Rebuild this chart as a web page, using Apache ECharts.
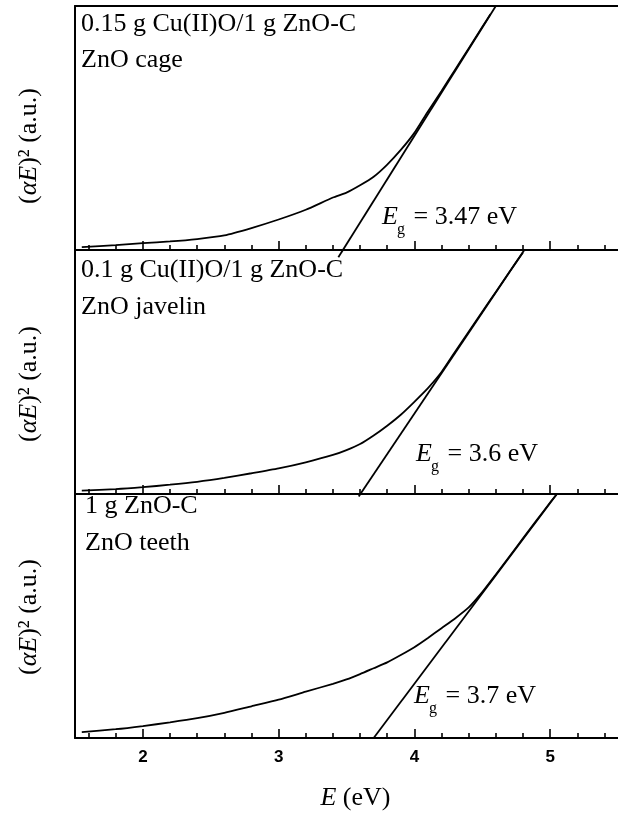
<!DOCTYPE html>
<html>
<head>
<meta charset="utf-8">
<script src="https://cdn.jsdelivr.net/npm/echarts@6/dist/echarts.min.js"></script>
<style>html,body{margin:0;padding:0;background:#fff}#c{width:618px;height:813px}</style>
</head>
<body>
<div id="c"></div>
<script>
// ---- data ----
const xMin = 1.5, xMax = 5.5;
const majorTicks = [2, 3, 4, 5];
const minorTicks = [1.6, 1.8, 2.2, 2.4, 2.6, 2.8, 3.2, 3.4, 3.6, 3.8, 4.2, 4.4, 4.6, 4.8, 5.2, 5.4];
const tickLabels = ['2', '3', '4', '5'];

const cageE = [1.55, 1.8, 2.0, 2.2, 2.4, 2.6, 2.8, 3.0, 3.2, 3.4, 3.5, 3.6, 3.7, 3.8, 3.9, 4.0, 4.1, 4.2, 4.3, 4.4, 4.5, 4.56];
const cageA = [0.012, 0.02, 0.028, 0.035, 0.045, 0.06, 0.09, 0.125, 0.165, 0.215, 0.235, 0.265, 0.3, 0.35, 0.41, 0.48, 0.568, 0.652, 0.739, 0.826, 0.914, 0.966];
const cageFitE = [3.44, 4.6];
const cageFitA = [-0.03, 1.0];

const javelinE = [1.55, 1.8, 2.0, 2.2, 2.4, 2.6, 2.8, 3.0, 3.2, 3.4, 3.5, 3.6, 3.7, 3.8, 3.9, 4.0, 4.1, 4.2, 4.3, 4.4, 4.5, 4.6, 4.7, 4.8];
const javelinA = [0.014, 0.02, 0.028, 0.038, 0.05, 0.066, 0.085, 0.105, 0.13, 0.16, 0.18, 0.205, 0.24, 0.28, 0.325, 0.378, 0.434, 0.5, 0.583, 0.665, 0.747, 0.828, 0.91, 0.99];
const javelinFitE = [3.59, 4.81];
const javelinFitA = [-0.01, 1.0];

const teethE = [1.55, 1.8, 2.0, 2.2, 2.4, 2.6, 2.8, 3.0, 3.2, 3.4, 3.5, 3.6, 3.7, 3.8, 3.9, 4.0, 4.1, 4.2, 4.3, 4.4, 4.5, 4.6, 4.7, 4.8, 4.9, 5.0, 5.05];
const teethA = [0.024, 0.036, 0.049, 0.064, 0.081, 0.103, 0.13, 0.157, 0.19, 0.222, 0.24, 0.262, 0.286, 0.31, 0.34, 0.372, 0.41, 0.45, 0.49, 0.535, 0.598, 0.67, 0.744, 0.818, 0.892, 0.965, 1.0];
const teethFitE = [3.7, 5.05];
const teethFitA = [0.0, 1.0];

const sampleLines = [
  ['0.15 g Cu(II)O/1 g ZnO-C', 'ZnO cage'],
  ['0.1 g Cu(II)O/1 g ZnO-C', 'ZnO javelin'],
  ['1 g ZnO-C', 'ZnO teeth']
];
const gapValues = ['3.47', '3.6', '3.7'];
const xTitle = 'E';
const xUnit = ' (eV)';

// ---- layout ----
const GL = 75, GW = 545, GH = 244;
const tops = [6, 250, 494];
const serif = '"Liberation Serif", "Times New Roman", serif';
const FS = 26;
const curves = [[cageE, cageA, cageFitE, cageFitA], [javelinE, javelinA, javelinFitE, javelinFitA], [teethE, teethA, teethFitE, teethFitA]];

const zip = (a, b) => a.map((v, i) => [v, b[i]]);

const grid = [], xAxis = [], yAxis = [], series = [], graphic = [];
const yTitleShift = [36, 24, 2];
tops.forEach((t, k) => {
  grid.push({ left: GL, top: t, width: GW, height: GH, containLabel: false });
  const last = k === 2;
  xAxis.push({
    type: 'value', gridIndex: k, min: xMin, max: xMax, position: 'bottom',
    axisLine: { show: true, onZero: false, lineStyle: { color: '#000', width: 2 } },
    axisTick: { show: true, inside: true, length: 9, customValues: majorTicks, lineStyle: { color: '#000', width: 1.6 } },
    axisLabel: { show: last, customValues: majorTicks, formatter: v => tickLabels[majorTicks.indexOf(v)] || '', margin: 11,
      fontFamily: '"Liberation Sans", Arial, sans-serif', fontWeight: 'bold', fontSize: 17, color: '#000' },
    splitLine: { show: false },
    name: last ? '{i|' + xTitle + '}{n|' + xUnit + '}' : '',
    nameLocation: 'middle', nameGap: 47,
    nameTextStyle: { padding: [0, 0, 0, 18], rich: {
      i: { fontFamily: serif, fontStyle: 'italic', fontSize: FS, color: '#000' },
      n: { fontFamily: serif, fontSize: FS, color: '#000' } } }
  });
  xAxis.push({
    type: 'value', gridIndex: k, min: xMin, max: xMax, position: 'bottom',
    axisLine: { show: false, onZero: false },
    axisTick: { show: true, inside: true, length: 5, customValues: minorTicks, lineStyle: { color: '#000', width: 1.6 } },
    axisLabel: { show: false }, splitLine: { show: false }
  });
  if (k === 0) {
    xAxis.push({
      type: 'value', gridIndex: 0, min: xMin, max: xMax, position: 'top',
      axisLine: { show: true, onZero: false, lineStyle: { color: '#000', width: 2 } },
      axisTick: { show: false }, axisLabel: { show: false }, splitLine: { show: false }
    });
  }
  yAxis.push({
    type: 'value', gridIndex: k, min: 0, max: 1,
    axisLine: { show: true, onZero: false, lineStyle: { color: '#000', width: 2 } },
    axisTick: { show: false }, axisLabel: { show: false }, splitLine: { show: false },
    name: '{n|(}{i|αE}{n|)² (a.u.)}', nameLocation: 'middle', nameRotate: 90, nameGap: 33,
    nameTextStyle: { padding: [0, yTitleShift[k], 0, 0], rich: {
      i: { fontFamily: serif, fontStyle: 'italic', fontSize: FS, color: '#000' },
      n: { fontFamily: serif, fontSize: FS, color: '#000' } } }
  });
});

const xIdx = [0, 3, 5];
curves.forEach((c, k) => {
  series.push({ type: 'line', xAxisIndex: xIdx[k], yAxisIndex: k, data: zip(c[0], c[1]), showSymbol: false, smooth: 0.2,
    lineStyle: { color: '#000', width: 1.8 }, clip: false, animation: false });
  series.push({ type: 'line', xAxisIndex: xIdx[k], yAxisIndex: k, data: zip(c[2], c[3]), showSymbol: false,
    lineStyle: { color: '#000', width: 1.8 }, clip: false, animation: false });
});

// panel texts
const labelX = [81, 81, 85];
const base1 = [33, 279, 515];
const base2 = [69, 316, 552];
const dy = 22;
sampleLines.forEach((ls, k) => {
  graphic.push({ type: 'text', left: labelX[k], top: base1[k] - dy, style: { text: ls[0], font: FS + 'px ' + serif, fill: '#000' } });
  graphic.push({ type: 'text', left: labelX[k], top: base2[k] - dy, style: { text: ls[1], font: FS + 'px ' + serif, fill: '#000' } });
});
// band gap annotations
const egX = [382, 416, 414];
const egBase = [226, 463, 705];
gapValues.forEach((g, k) => {
  graphic.push({ type: 'text', left: egX[k], top: egBase[k] - dy, style: { text: 'E', font: 'italic ' + FS + 'px ' + serif, fill: '#000' } });
  graphic.push({ type: 'text', left: egX[k] + 15, top: egBase[k] - 4, style: { text: 'g', font: '16px ' + serif, fill: '#000' } });
  graphic.push({ type: 'text', left: egX[k] + 25, top: egBase[k] - dy, style: { text: ' = ' + g + ' eV', font: FS + 'px ' + serif, fill: '#000' } });
});

const chart = echarts.init(document.getElementById('c'), null, { renderer: 'canvas' });
chart.setOption({ animation: false, backgroundColor: '#fff', grid, xAxis, yAxis, series, graphic });
</script>
</body>
</html>
